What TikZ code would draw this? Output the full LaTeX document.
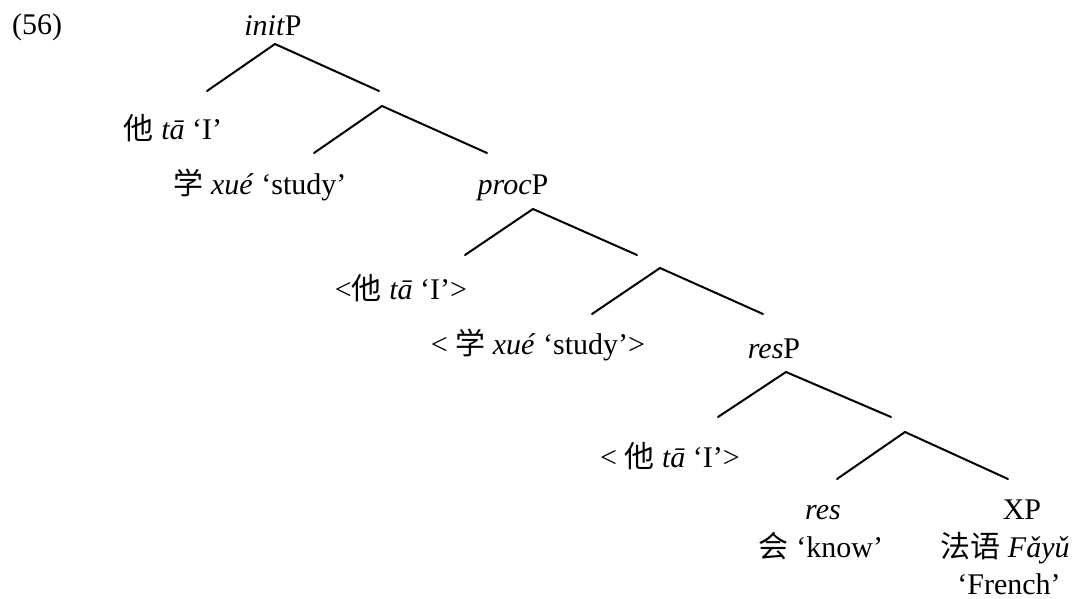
\documentclass[tikz,border=0pt]{standalone}
\usepackage{fontspec}
\setmainfont{Liberation Serif}
\newfontfamily\zh{Noto Sans CJK SC}
\begin{document}
\begin{tikzpicture}[
  x=0.4pt,y=-0.4pt,
  line cap=round,
  line join=round,
  branch/.style={draw=black,line width=0.8pt},
  lbl/.style={inner sep=0pt,anchor=base,font=\fontsize{12}{14}\selectfont}
]
  \useasboundingbox (0,0) rectangle (1075,599);

  % Branching points
  \coordinate (a1) at (275,44);
  \coordinate (a1l) at (207,91);
  \coordinate (a1r) at (379,91);
  \coordinate (a2) at (382,106);
  \coordinate (a2l) at (314,153);
  \coordinate (a2r) at (487,153);
  \coordinate (a3) at (533,209);
  \coordinate (a3l) at (465,255);
  \coordinate (a3r) at (637,255);
  \coordinate (a4) at (660,268);
  \coordinate (a4l) at (592,314);
  \coordinate (a4r) at (763,314);
  \coordinate (a5) at (786,372);
  \coordinate (a5l) at (718,417);
  \coordinate (a5r) at (891,417);
  \coordinate (a6) at (905,432);
  \coordinate (a6l) at (837,479);
  \coordinate (a6r) at (1008,479);

  % Branches
  \draw[branch] (a1l) -- (a1) -- (a1r);
  \draw[branch] (a2l) -- (a2) -- (a2r);
  \draw[branch] (a3l) -- (a3) -- (a3r);
  \draw[branch] (a4l) -- (a4) -- (a4r);
  \draw[branch] (a5l) -- (a5) -- (a5r);
  \draw[branch] (a6l) -- (a6) -- (a6r);

  % Labels
  \node[lbl] (ex) at (37,35) {(56)};
  \node[lbl] (initP) at (273,36) {\textit{init}P};
  \node[lbl] (spec1) at (173,140) {{\zh 他} \textit{tā} ‘I’};
  \node[lbl] (init) at (260,195) {{\zh 学} \textit{xué} ‘study’};
  \node[lbl] (procP) at (513,195) {\textit{proc}P};
  \node[lbl] (spec2) at (401,300) {<{\zh 他} \textit{tā} ‘I’>};
  \node[lbl] (proc) at (538,355) {< {\zh 学} \textit{xué} ‘study’>};
  \node[lbl] (resP) at (774,359) {\textit{res}P};
  \node[lbl] (spec3) at (670,467) {< {\zh 他} \textit{tā} ‘I’>};
  \node[lbl] (res) at (823,520) {\textit{res}};
  \node[lbl] (know) at (821,557) {{\zh 会} ‘know’};
  \node[lbl] (XP) at (1022,520) {XP};
  \node[lbl] (fayu) at (1005,557) {{\zh 法语} \textit{Fǎyǔ}};
  \node[lbl] (french) at (1009,594) {‘French’};
\end{tikzpicture}
\end{document}
